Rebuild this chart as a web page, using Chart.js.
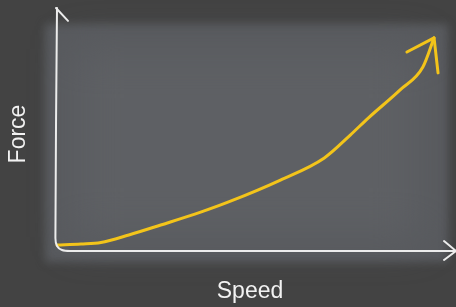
<!DOCTYPE html>
<html>
<head>
<meta charset="utf-8">
<script src="https://cdn.jsdelivr.net/npm/chart.js@4/dist/chart.umd.min.js"></script>
<style>
  html, body { margin: 0; padding: 0; background: #434343; }
  #wrap { width: 456px; height: 307px; position: relative; }
</style>
</head>
<body>
<div id="wrap"><canvas id="c"></canvas></div>
<script>
// Data (conceptual units, 0..100 on both axes)
const speed = [0, 6, 11, 18, 26, 36, 43, 56, 67, 73.5, 78, 86, 91.7, 94.5];
const force = [2.5, 2.9, 3.5, 6.6, 10.7, 16.0, 20.2, 29.2, 38.3, 47.7, 54.7, 66.3, 75.7, 87.7];

// Hand-drawn arrowhead at end of the curve
const curveHeadX = [87.7, 94.5, 95.5];
const curveHeadY = [81.9, 87.7, 73.3];

// Hand-drawn axes
const axisFrameX = [0, -0.4, 0, 1.25, 3.3, 100];
const axisFrameY = [100, 5.3, 2.1, 0.4, 0, 0];
const yArrowX = [-1.75, -0.25, 2.76];
const yArrowY = [95.1, 100, 94.7];
const xArrowX = [97.0, 100, 97.0];
const xArrowY = [4.1, 0, -3.7];

// Panel extent (data units)
const panelX = [-3.0, 98.0];
const panelY = [-4.5, 93.4];

const xLabel = 'Speed';
const yLabel = 'Force';

const zip = (xs, ys) => xs.map((x, i) => ({ x, y: ys[i] }));

const panelPlugin = {
  id: 'panel',
  beforeDatasetsDraw(chart) {
    const { ctx, scales: { x, y } } = chart;
    const l = x.getPixelForValue(panelX[0]), r = x.getPixelForValue(panelX[1]);
    const t = y.getPixelForValue(panelY[1]), b = y.getPixelForValue(panelY[0]);
    ctx.save();
    ctx.filter = 'blur(4px)';
    ctx.fillStyle = '#585a5e';
    ctx.fillRect(l, t, r - l, b - t);
    ctx.filter = 'blur(20px)';
    ctx.fillStyle = '#5e6064';
    ctx.fillRect(l + 30, t + 25, r - l - 60, b - t - 50);
    ctx.restore();
  }
};

const labelPlugin = {
  id: 'labels',
  afterDraw(chart) {
    const { ctx } = chart;
    ctx.save();
    ctx.fillStyle = '#f2f2f2';
    ctx.font = '23px "Liberation Sans", Arial, sans-serif';
    ctx.textAlign = 'center';
    ctx.textBaseline = 'alphabetic';
    ctx.fillText(xLabel, 250, 298);
    ctx.translate(24.5, 134);
    ctx.rotate(-Math.PI / 2);
    ctx.fillText(yLabel, 0, 0);
    ctx.restore();
  }
};

const lineDs = (data, color, width) => ({
  data, borderColor: color, borderWidth: width, pointRadius: 0,
  fill: false, clip: false, borderCapStyle: 'round', borderJoinStyle: 'round'
});

new Chart(document.getElementById('c'), {
  type: 'line',
  data: {
    datasets: [
      Object.assign(lineDs(zip(axisFrameX, axisFrameY), '#ececec', 2), { tension: 0.3 }),
      Object.assign(lineDs(zip(yArrowX, yArrowY), '#ececec', 2), { tension: 0 }),
      Object.assign(lineDs(zip(xArrowX, xArrowY), '#ececec', 2), { tension: 0 }),
      Object.assign(lineDs(zip(speed, force), '#f3c41a', 3), { cubicInterpolationMode: 'monotone' }),
      Object.assign(lineDs(zip(curveHeadX, curveHeadY), '#f3c41a', 3), { tension: 0 })
    ]
  },
  options: {
    responsive: true,
    maintainAspectRatio: false,
    animation: false,
    devicePixelRatio: 1,
    layout: { padding: { left: 57, right: 0, top: 8, bottom: 56 } },
    plugins: { legend: { display: false }, tooltip: { enabled: false } },
    scales: {
      x: { type: 'linear', min: 0, max: 100, display: false },
      y: { type: 'linear', min: 0, max: 100, display: false }
    }
  },
  plugins: [panelPlugin, labelPlugin]
});
</script>
</body>
</html>
